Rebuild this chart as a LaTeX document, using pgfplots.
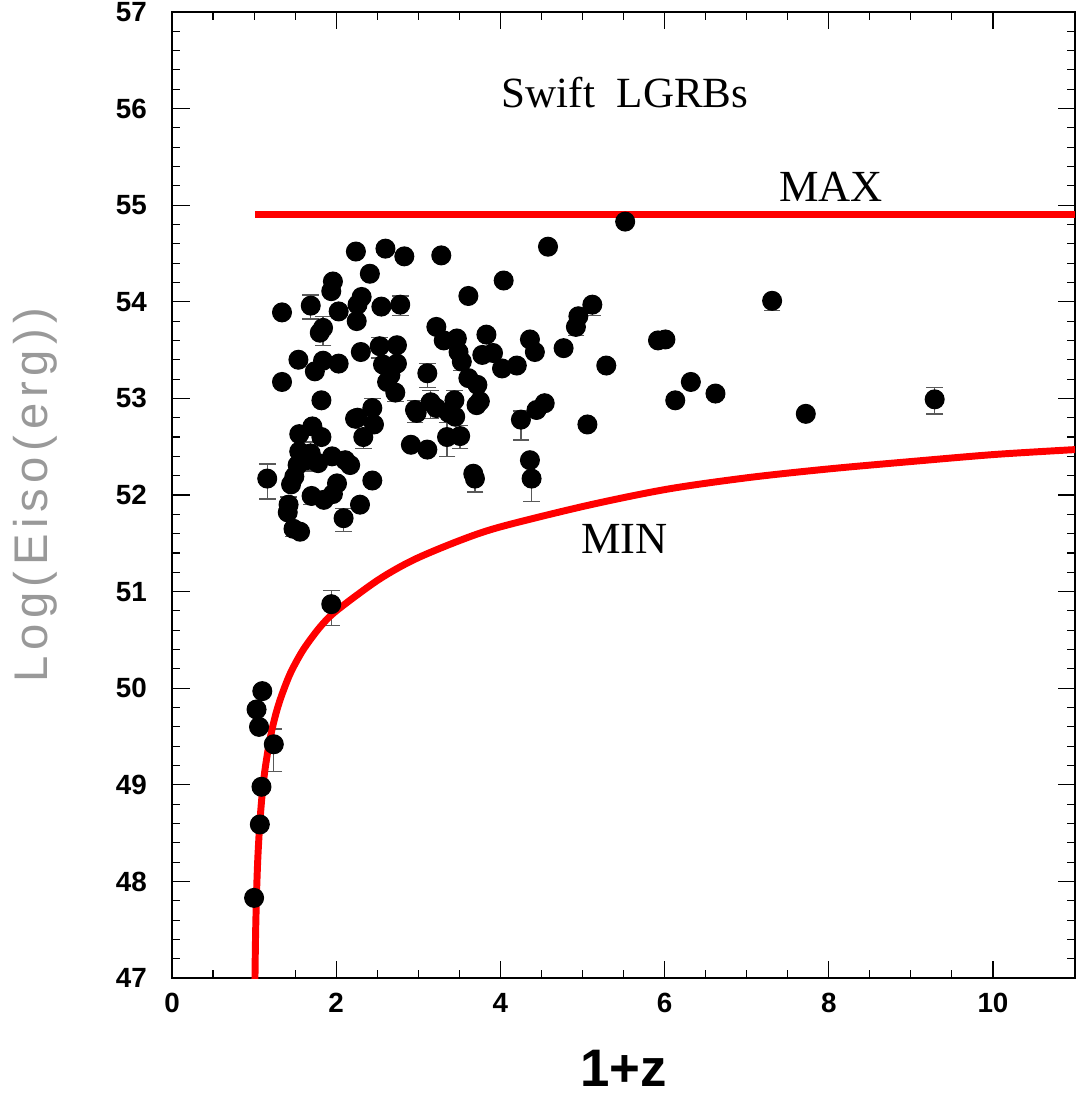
\documentclass[border=0pt]{standalone}
\usepackage{fontspec}
\setmainfont{Liberation Serif}
\newfontfamily\tickfont{Liberation Sans}
\newfontfamily\labfont[LetterSpace=12]{Liberation Sans}
\usepackage{pgfplots}
\pgfplotsset{compat=1.18}
\usepackage{pgfplotstable}

% Swift long GRBs: 1+z, log Eiso, error plus, error minus
\pgfplotstableread{
x y ep em
1.00 47.83 0 0
1.07 48.59 0 0
1.09 48.98 0 0
1.24 49.42 0.16 0.28
1.06 49.60 0 0
1.03 49.78 0 0
1.10 49.97 0 0
1.94 50.87 0.14 0.22
1.16 52.17 0.15 0.21
1.34 53.89 0 0
1.34 53.17 0 0
1.69 53.96 0.11 0.14
1.84 53.73 0.12 0.18
1.80 53.68 0 0
1.96 54.21 0 0
1.94 54.11 0 0
2.03 53.90 0 0
2.24 54.52 0 0
2.60 54.55 0 0
2.83 54.47 0 0
3.28 54.48 0 0
2.41 54.29 0 0
2.31 54.05 0 0
2.26 53.97 0 0
2.55 53.95 0 0
2.78 53.97 0.09 0.11
2.25 53.80 0 0
2.30 53.48 0 0
2.53 53.54 0.09 0.12
2.74 53.55 0 0
2.57 53.35 0 0
2.74 53.36 0 0
2.66 53.24 0 0
2.62 53.17 0 0
2.72 53.06 0 0.09
1.54 53.40 0 0
1.84 53.39 0 0
2.03 53.36 0 0
1.74 53.28 0 0
1.82 52.98 0 0
2.23 52.79 0 0
2.26 52.80 0 0
2.44 52.90 0.10 0
2.46 52.73 0 0
2.33 52.60 0.09 0.12
2.96 52.88 0.10 0.13
2.98 52.85 0 0
3.15 52.96 0.12 0.17
3.22 52.90 0 0
3.37 52.85 0 0
3.45 52.81 0 0
3.44 52.98 0.10 0
3.35 52.60 0.15 0.20
3.51 52.61 0.11 0.13
2.91 52.52 0 0
3.11 52.47 0 0
3.61 53.21 0 0
3.72 53.14 0 0
3.71 52.93 0 0
3.75 52.97 0 0
3.22 53.74 0 0
3.31 53.60 0 0
3.47 53.62 0 0
3.49 53.48 0 0
3.53 53.38 0 0.09
3.61 54.06 0 0
3.83 53.66 0 0
3.78 53.45 0 0
3.91 53.47 0 0
4.02 53.31 0 0
4.20 53.34 0 0
4.36 53.61 0 0
4.42 53.48 0 0
4.04 54.22 0 0
4.25 52.78 0.09 0.21
4.36 52.36 0 0
4.38 52.17 0 0.24
4.44 52.88 0 0
4.54 52.95 0 0
3.67 52.22 0 0
3.69 52.17 0 0.14
4.58 54.57 0 0
5.12 53.97 0 0.11
4.95 53.85 0 0
4.92 53.74 0 0.09
4.77 53.52 0 0
5.29 53.34 0 0
5.06 52.73 0 0
5.52 54.83 0 0
7.31 54.01 0 0.10
5.92 53.60 0 0
6.01 53.61 0 0
6.32 53.17 0 0
6.13 52.98 0 0
6.62 53.05 0 0
7.72 52.84 0 0
9.29 52.99 0.12 0.15
3.11 53.26 0.10 0.15
1.55 52.63 0 0
1.71 52.71 0 0
1.82 52.60 0 0
1.55 52.45 0 0
1.69 52.43 0.12 0.18
1.95 52.40 0 0
2.11 52.36 0 0
2.17 52.31 0 0
1.53 52.31 0 0
1.78 52.33 0 0
1.64 52.36 0 0
1.49 52.19 0 0
1.45 52.11 0 0
1.70 51.99 0 0.09
2.01 52.12 0 0
1.96 52.01 0 0
1.85 51.95 0 0
2.44 52.15 0 0
2.29 51.90 0 0
2.09 51.76 0.10 0.14
1.42 51.90 0.08 0
1.41 51.82 0 0
1.48 51.65 0 0.08
1.56 51.62 0 0
}\grbs

\begin{document}
\begin{tikzpicture}
\begin{axis}[
    scale only axis,
    width=325pt, height=347.7pt,
    xmin=0, xmax=11, ymin=47, ymax=57,
    xtick={0,2,...,10}, ytick={47,...,57},
    minor x tick num=3, minor y tick num=4,
    tick align=inside, xtick pos=both, ytick pos=both,
    major tick length=6.3pt, minor tick length=3pt,
    tick style={black, line width=0.4pt},
    axis line style={line width=0.6pt},
    ticklabel style={font=\tickfont\bfseries\fontsize{10}{12}\selectfont},
    /pgf/number format/assume math mode=true,
    yticklabel style={xshift=-5.5pt},
    xticklabel style={yshift=-2pt},
    xlabel={1+z},
    ylabel={Log(Eiso(erg))},
    xlabel style={at={(axis description cs:0.5,-0.093)}, anchor=center,
        font=\tickfont\bfseries\fontsize{19}{22}\selectfont},
    ylabel style={at={(axis description cs:-0.151,0.5)}, anchor=center,
        font=\labfont\fontsize{17}{20}\selectfont, text=black!40},
]
\addplot[only marks, mark=*, mark size=3.4pt, mark options={fill=black, draw=black},
    error bars/.cd, y dir=both, y explicit,
    error bar style={line width=0.5pt, black!65},
    error mark options={rotate=90, mark size=3pt, line width=0.5pt, black!65}]
    table[x=x, y=y, y error plus=ep, y error minus=em] {\grbs};

% MAX and MIN limits
\addplot[red, line width=2.5pt, no markers] coordinates {(1.01,54.90) (11,54.90)};
\addplot[red, line width=2.5pt, smooth, no markers] coordinates {
    (1.008,46.74) (1.011,47.02) (1.015,47.28) (1.02,47.53) (1.03,47.88)
    (1.04,48.13) (1.05,48.32) (1.07,48.61) (1.10,48.92) (1.13,49.14)
    (1.17,49.36) (1.22,49.58) (1.28,49.78) (1.35,49.96) (1.45,50.17)
    (1.60,50.40) (1.80,50.63) (2.00,50.80) (2.51,51.12) (2.946,51.33)
    (3.508,51.53) (4.0,51.67) (5.05,51.89) (6.03,52.06) (7.02,52.18)
    (8.0,52.27) (9.05,52.35) (10.03,52.42) (11.0,52.47)};

\node[font=\fontsize{15.5}{18}\selectfont] at (axis cs:5.52,56.17) {Swift\ \ LGRBs};
\node[font=\fontsize{16}{19}\selectfont] at (axis cs:8.03,55.19) {MAX};
\node[font=\fontsize{16}{19}\selectfont] at (axis cs:5.51,51.55) {MIN};
\end{axis}
\pgfresetboundingbox
\path ([shift={(-61.9pt,-42.8pt)}]current axis.south west)
    rectangle ([shift={(0pt,4.3pt)}]current axis.north east);
\end{tikzpicture}
\end{document}
